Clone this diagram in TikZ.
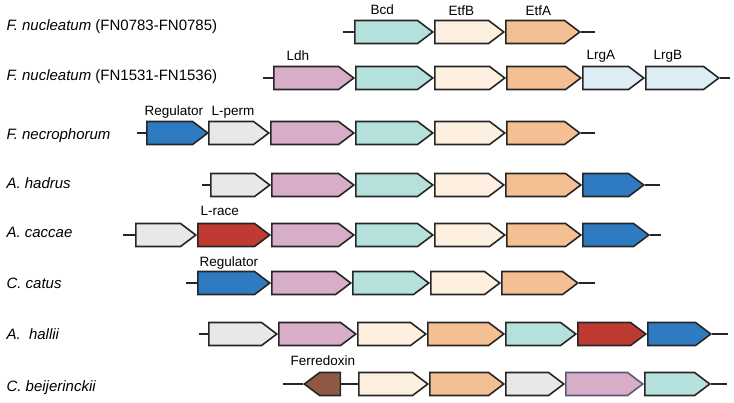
\documentclass[tikz,border=0pt]{standalone}
\usepackage{fontspec}
\setmainfont{Liberation Sans}
\usetikzlibrary{shapes.symbols}
\definecolor{edge}{HTML}{262626}
\definecolor{bcdc}{HTML}{B4E1DC}
\definecolor{etfbc}{HTML}{FDF0E0}
\definecolor{etfac}{HTML}{F4BF92}
\definecolor{ldhc}{HTML}{D8ADC8}
\definecolor{regc}{HTML}{2F7BC2}
\definecolor{permc}{HTML}{E8E8E8}
\definecolor{racec}{HTML}{BF3A30}
\definecolor{lrgc}{HTML}{DCEDF3}
\definecolor{ferc}{HTML}{8F5A44}
\definecolor{ldhedge}{HTML}{5A5A7E}
\begin{document}
\begin{tikzpicture}[x=1pt,y=-1pt,
    every node/.style={font=\fontsize{13.5}{15}\selectfont},
    gene/.style={signal,signal to=east,draw=edge,line width=1.6pt,
      minimum height=23pt,inner sep=0pt,signal pointer angle=74,anchor=west},
    bb/.style={draw=edge,line width=1.5pt},
    species/.style={anchor=base west,font=\fontsize{15}{17}\selectfont}]
    \useasboundingbox (0,0) rectangle (734,402);
    % species names
    \node[species] (sp1) at (3,30) {\textit{F. nucleatum} (FN0783-FN0785)};
    \node[species] (sp2) at (3,80) {\textit{F. nucleatum} (FN1531-FN1536)};
    \node[species] (sp3) at (3,139) {\textit{F. necrophorum}};
    \node[species] (sp4) at (3,188) {\textit{A. hadrus}};
    \node[species] (sp5) at (3,237) {\textit{A. caccae}};
    \node[species] (sp6) at (3,288) {\textit{C. catus}};
    \node[species] (sp7) at (3,339) {\textit{A.\ \ hallii}};
    \node[species] (sp8) at (3,391) {\textit{C. beijerinckii}};
    % gene clusters
    \foreach \n/\s/\e/\c in {bcd1/354/432/bcdc, etfb1/434/503/etfbc,
        etfa1/505/579/etfac}
      \node[gene,fill=\c,minimum width={(\e-\s)*1pt}] (\n) at (\s,32) {};
    \foreach \n/\s/\e/\c in {ldh2/273/353/ldhc, bcd2/355/432/bcdc,
        etfb2/434/504/etfbc, etfa2/506/580/etfac, lrga2/582/643/lrgc,
        lrgb2/645/718/lrgc}
      \node[gene,fill=\c,minimum width={(\e-\s)*1pt}] (\n) at (\s,78) {};
    \foreach \n/\s/\e/\c in {reg3/146/207/regc, perm3/208/268/permc,
        ldh3/270/353/ldhc, bcd3/355/432/bcdc, etfb3/434/504/etfbc,
        etfa3/506/579/etfac}
      \node[gene,fill=\c,minimum width={(\e-\s)*1pt}] (\n) at (\s,133) {};
    \foreach \n/\s/\e/\c in {perm4/210/269/permc, ldh4/271/353/ldhc,
        bcd4/355/432/bcdc, etfb4/434/503/etfbc, etfa4/505/580/etfac,
        reg4/582/643/regc}
      \node[gene,fill=\c,minimum width={(\e-\s)*1pt}] (\n) at (\s,185) {};
    \foreach \n/\s/\e/\c in {perm5/135/195/permc, race5/197/269/racec,
        ldh5/271/353/ldhc, bcd5/355/432/bcdc, etfb5/434/504/etfbc,
        etfa5/506/580/etfac, reg5/582/648/regc}
      \node[gene,fill=\c,minimum width={(\e-\s)*1pt}] (\n) at (\s,235) {};
    \foreach \n/\s/\e/\c in {reg6/197/269/regc, ldh6/271/350/ldhc,
        bcd6/352/428/bcdc, etfb6/430/499/etfbc, etfa6/501/577/etfac}
      \node[gene,fill=\c,minimum width={(\e-\s)*1pt}] (\n) at (\s,283) {};
    \foreach \n/\s/\e/\c in {perm7/208/276/permc, ldh7/278/355/ldhc,
        etfb7/357/425/etfbc, etfa7/427/503/etfac, bcd7/505/575/bcdc,
        race7/577/645/racec, reg7/647/710/regc}
      \node[gene,fill=\c,minimum width={(\e-\s)*1pt}] (\n) at (\s,334) {};
    \node[gene,signal to=west,fill=ferc,minimum width=36pt] (fer8)
        at (303,384) {};
    \foreach \n/\s/\e/\c in {etfb8/358/427/etfbc, etfa8/429/503/etfac,
        perm8/505/563/permc, bcd8/644/709/bcdc}
      \node[gene,fill=\c,minimum width={(\e-\s)*1pt}] (\n) at (\s,384) {};
    \node[gene,fill=ldhc,draw=ldhedge,minimum width=77pt] (ldh8) at (565,384) {};
    % backbone ends
    \coordinate (s1) at (343,32);    \coordinate (t1) at (595,32);
    \coordinate (s2) at (263,78);    \coordinate (t2) at (730,78);
    \coordinate (s3) at (137,133);   \coordinate (t3) at (595,133);
    \coordinate (s4) at (202,185);   \coordinate (t4) at (660,185);
    \coordinate (s5) at (123,235);   \coordinate (t5) at (661,235);
    \coordinate (s6) at (186,283);   \coordinate (t6) at (595,283);
    \coordinate (s7) at (199,334);   \coordinate (t7) at (728,334);
    \coordinate (s8) at (283,384);   \coordinate (t8) at (727,384);
    \draw[bb] (s1) -- (bcd1.west) (etfa1.east) -- (t1);
    \draw[bb] (s2) -- (ldh2.west) (lrgb2.east) -- (t2);
    \draw[bb] (s3) -- (reg3.west) (etfa3.east) -- (t3);
    \draw[bb] (s4) -- (perm4.west) (reg4.east) -- (t4);
    \draw[bb] (s5) -- (perm5.west) (reg5.east) -- (t5);
    \draw[bb] (s6) -- (reg6.west) (etfa6.east) -- (t6);
    \draw[bb] (s7) -- (perm7.west) (reg7.east) -- (t7);
    \draw[bb] (s8) -- (fer8.west) (fer8.east) -- (etfb8.west)
        (bcd8.east) -- (t8);
    % gene labels
    \node[anchor=base west] (lbcd) at (367,14) {Bcd};
    \node[anchor=base west] (letfb) at (445,15) {EtfB};
    \node[anchor=base west] (letfa) at (522,15) {EtfA};
    \node[anchor=base west] (lldh) at (283,60) {Ldh};
    \node[anchor=base west] (llrga) at (583,59) {LrgA};
    \node[anchor=base west] (llrgb) at (650,59) {LrgB};
    \node[anchor=base west] (lreg3) at (141,115) {Regulator};
    \node[anchor=base west] (lperm) at (208,115) {L-perm};
    \node[anchor=base west] (lrace) at (197,215) {L-race};
    \node[anchor=base west] (lreg6) at (196,266) {Regulator};
    \node[anchor=base west] (lfer) at (287,365) {Ferredoxin};
\end{tikzpicture}
\end{document}
